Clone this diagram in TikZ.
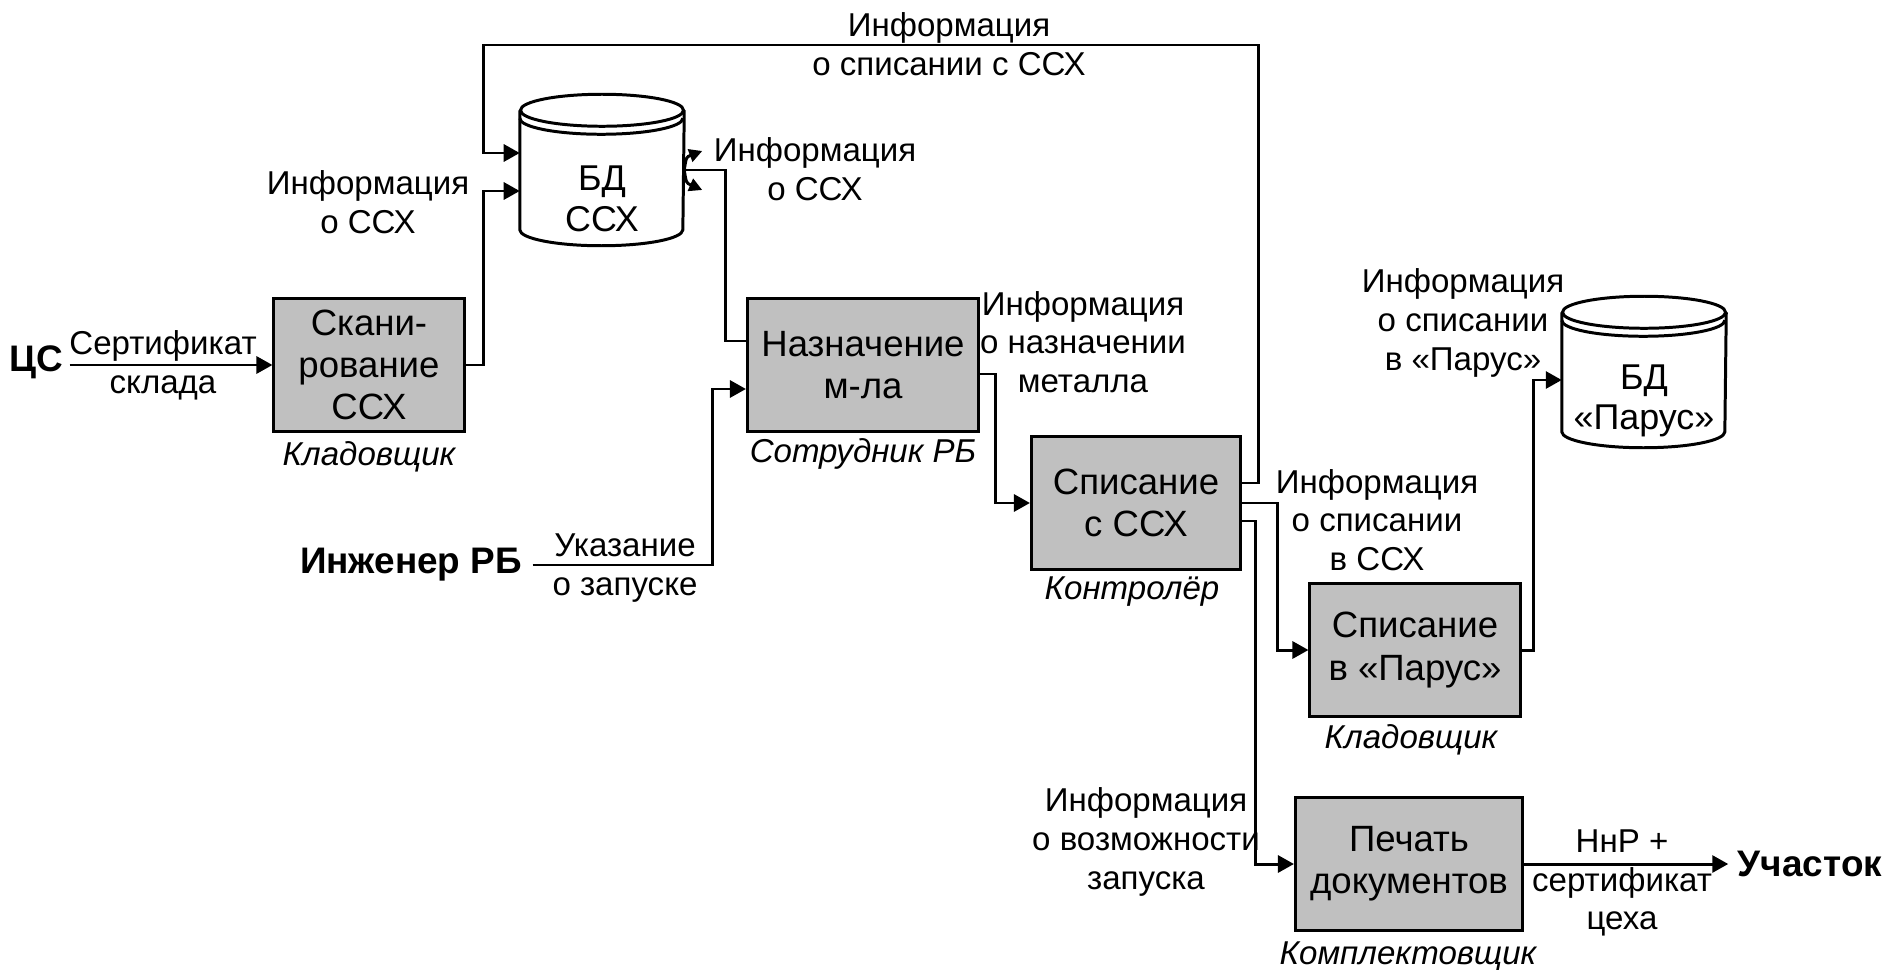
\documentclass[tikz,border=0pt]{standalone}
\usepackage{fontspec}
\setmainfont{Liberation Sans}
\usetikzlibrary{arrows.meta,calc,positioning}
\definecolor{boxgray}{RGB}{192,192,192}

\tikzset{
  procbox/.style={draw, fill=boxgray, line width=0.85pt, minimum width=#1, minimum height=1.32cm,
    inner sep=0pt, align=center, font=\fontsize{10.4}{12}\selectfont},
  dbnode/.style={minimum width=1.63cm, minimum height=1.5cm, inner sep=0pt},
  dbtext/.style={align=center, inner sep=0pt, font=\fontsize{10.2}{11.5}\selectfont},
  dbline/.style={line width=0.85pt},
  flow/.style={line width=0.85pt, -{Triangle[length=0.16cm,width=0.17cm]}},
  link/.style={line width=0.85pt},
  fork/.style={line width=0.85pt, -{Triangle[length=0.13cm,width=0.13cm]}},
  lbl/.style={align=center, inner sep=0pt, font=\fontsize{9.4}{11}\selectfont},
  who/.style={inner sep=0pt, font=\fontsize{9.4}{11}\selectfont\itshape},
  ext/.style={inner sep=0pt, font=\fontsize{10.5}{12}\selectfont\bfseries}
}

% cylinder outline round a dbnode
\newcommand\dbdraw[1]{%
  \draw[dbline] ([yshift=-0.16cm]#1.north west) -- ([yshift=0.16cm]#1.south west)
    arc[start angle=180,end angle=360,x radius=0.815cm,y radius=0.16cm]
    -- ([yshift=-0.16cm]#1.north east);
  \draw[dbline] ([yshift=-0.16cm]#1.north) ellipse[x radius=0.815cm,y radius=0.16cm];
  \draw[dbline] ([yshift=-0.24cm]#1.north west)
    arc[start angle=180,end angle=360,x radius=0.815cm,y radius=0.16cm];
}

\begin{document}
\begin{tikzpicture}[x=0.01cm, y=-0.01cm]
  \useasboundingbox (0,0) rectangle (1891,970);

  % processes
  \foreach \n/\x/\y/\w/\t in {scan/369/365/1.9cm/{Скани-\\рование\\ССХ},
      naz/863/365/2.31cm/{Назначение\\м-ла}, spis/1136/503/2.09cm/{Списание\\с ССХ},
      parus/1415/650/2.1cm/{Списание\\в «Парус»}, pechat/1409/864/2.27cm/{Печать\\документов}}
    \node[procbox=\w] (\n) at (\x,\y) {\t};

  % databases
  \foreach \n/\x/\y/\t in {db1/602/170/{БД\\ССХ}, db2/1644/372/{БД\\«Парус»}}
  {
    \node[dbnode] (\n) at (\x,\y) {};
    \dbdraw{\n}
    \node[dbtext] (\n txt) at ($(\n)+(0,29)$) {\t};
  }

  % roles
  \foreach \n/\x/\y/\t in {r1/369/457/Кладовщик, r2/863/454/Сотрудник РБ, r3/1132/592/Контролёр,
      r4/1411/740/Кладовщик, r5/1408/956/Комплектовщик}
    \node[who] (\n) at (\x,\y) {\t};

  % outer
  \node[ext] (cs) at (36,362) {ЦС};
  \node[ext] (eng) at (411,565) {Инженер РБ};
  \node[ext] (uch) at (1810,864) {Участок};

  \coordinate (loopr) at (1258,45);
  \coordinate (loopl) at (483,45);

  % arrows
  \draw[flow, shorten <=0.06cm] (cs.east |- scan.west) -- (scan.west);
  \draw[flow] (scan.east) -| ($(loopl |- db1.west)+(0,21)$) -- ($(db1.west)+(0,21)$);
  \draw[flow] ($(spis.east)+(0,-20)$) -| (loopr) -- (loopl) |- ($(db1.west)+(0,-17)$);
  \draw[link] (db1.east) -| ($(naz.west)+(-20,-24)$) -- ($(naz.west)+(0,-24)$);
  \draw[fork] (db1.east) .. controls ($(db1.east)+(2,-13)$) .. ($(db1.east)+(18,-19)$);
  \draw[fork] (db1.east) .. controls ($(db1.east)+(2,13)$) .. ($(db1.east)+(18,20)$);
  \draw[flow, shorten <=0.1cm] (eng.east) -| ($(naz.west)+(-33,24)$) -- ($(naz.west)+(0,24)$);
  \draw[flow] ($(naz.east)+(0,9)$) -| ($(spis.west)+(-34,0)$) -- (spis.west);
  \draw[flow] (spis.east) -| ($(parus.west)+(-31,0)$) -- (parus.west);
  \draw[flow] ($(spis.east)+(0,18)$) -| ($(pechat.west)+(-38,0)$) -- (pechat.west);
  \draw[flow] (parus.east) -| ($(db2.west)+(-28,8)$) -- ($(db2.west)+(0,8)$);
  \draw[flow, shorten >=0.09cm] (pechat.east) -- (uch.west |- pechat.east);

  % labels
  \foreach \n/\x/\y/\t in {lcert/163/365/{Сертификат\\склада}, linfo1/368/202/{Информация\\о ССХ},
      linfo2/815/169/{Информация\\о ССХ}, ltop/949/44/{Информация\\о списании с ССХ},
      lnaz/1083/342/{Информация\\о назначении\\металла}, lukaz/625/568/{Указание\\о запуске},
      lspis/1377/520/{Информация\\о списании\\в ССХ}, lparus/1463/323/{Информация\\о списании\\в «Парус»},
      lvozm/1146/842/{Информация\\о возможности\\запуска}, lnnr/1622/883/{НнР +\\сертификат\\цеха}}
    \node[lbl] (\n) at (\x,\y) {\t};
\end{tikzpicture}
\end{document}
